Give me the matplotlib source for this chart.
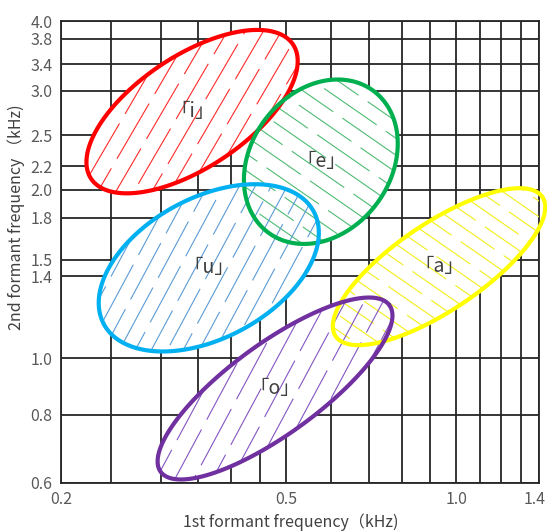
import numpy as np
import matplotlib
matplotlib.use('Agg')
import matplotlib.pyplot as plt
import matplotlib.transforms as mtransforms
from matplotlib.patches import Polygon
from matplotlib.ticker import FixedLocator, FixedFormatter, NullFormatter

plt.rcParams['font.family'] = ['Noto Sans CJK JP', 'DejaVu Sans']
plt.rcParams['lines.scale_dashes'] = False

# ---- data (kHz) ----
vowels = ['「i」', '「e」', '「u」', '「a」', '「o」']
f1_center = [0.341, 0.576, 0.365, 0.932, 0.478]
f2_center = [2.756, 2.243, 1.450, 1.457, 0.883]
major_dec = [0.215, 0.157, 0.211, 0.221, 0.251]   # semi-axis, decades
minor_dec = [0.0996, 0.124, 0.125, 0.0776, 0.0804]
tilt_deg = [34.0, 54.6, 28.7, 34.3, 36.4]

x_tick_vals = [0.2, 0.5, 1.0, 1.4]
x_tick_labels = ['0.2', '0.5', '1.0', '1.4']
# grid-line positions as drawn in the chart
y_tick_vals = [0.6, 0.792, 1.0, 1.4, 1.5, 1.78, 2.0, 2.2, 2.5, 3.0, 3.35, 3.72, 4.0]
y_tick_labels = ['0.6', '0.8', '1.0', '1.4', '1.5', '1.8', '2.0', '2.2', '2.5',
                 '3.0', '3.4', '3.8', '4.0']
x_grid = [0.245, 0.3, 0.35, 0.4, 0.45, 0.5, 0.6, 0.7, 0.8, 0.9, 1.0, 1.1, 1.2, 1.3]

# ---- styles ----
edge_colors = ['#ff0000', '#00b050', '#00b0f0', '#ffff00', '#7030a0']
hatch_colors = ['#ff2a2a', '#4dbb72', '#5b9bd5', '#f2ee1a', '#8455c2']
hatch_angle = [60, -35, 62, -35, 62]
hatch_gap_px = [15.5, 14.0, 14.0, 13.0, 16.5]
PX_PER_DEC = 562.0

fig = plt.figure(figsize=(5.47, 5.31), dpi=100)
ax = fig.add_axes([61/547, (531-482.5)/531, 478/547, 461.5/531])
ax.set_xscale('log')
ax.set_yscale('log')

ax.xaxis.set_major_locator(FixedLocator(x_tick_vals))
ax.xaxis.set_major_formatter(FixedFormatter(x_tick_labels))
ax.xaxis.set_minor_locator(FixedLocator(x_grid))
ax.xaxis.set_minor_formatter(NullFormatter())
ax.yaxis.set_major_locator(FixedLocator(y_tick_vals))
ax.yaxis.set_major_formatter(FixedFormatter(y_tick_labels))
ax.yaxis.set_minor_locator(FixedLocator([]))

gc = '#262626'
ax.grid(True, which='both', color=gc, lw=1.3, zorder=1)
ax.set_axisbelow(True)
for s in ax.spines.values():
    s.set_color(gc)
    s.set_linewidth(1.3)
ax.tick_params(which='both', length=0, labelsize=11.5, labelcolor='#595959', pad=6)

t = np.linspace(0, 2*np.pi, 500)
polys = []
for i in range(len(vowels)):
    th = np.radians(tilt_deg[i])
    a, b = major_dec[i], minor_dec[i]
    cx, cy = np.log10(f1_center[i]), np.log10(f2_center[i])
    lx = cx + a*np.cos(t)*np.cos(th) - b*np.sin(t)*np.sin(th)
    ly = cy + a*np.cos(t)*np.sin(th) + b*np.sin(t)*np.cos(th)
    verts = np.column_stack([10**lx, 10**ly])
    fill = Polygon(verts, closed=True, facecolor='white', edgecolor='none',
                   zorder=2, clip_on=False)
    ax.add_patch(fill)
    polys.append((verts, fill, cx, cy, a))

for i, (verts, fill, cx, cy, a) in enumerate(polys):
    phi = np.radians(hatch_angle[i])
    d = np.array([np.cos(phi), np.sin(phi)])
    n = np.array([-np.sin(phi), np.cos(phi)])
    gap = hatch_gap_px[i] / PX_PER_DEC
    R = a * 1.2
    ks = np.arange(-R, R + gap, gap)
    for j, k in enumerate(ks):
        p0 = np.array([cx, cy]) + k*n - R*d
        p1 = np.array([cx, cy]) + k*n + R*d
        ln, = ax.plot(10**np.array([p0[0], p1[0]]), 10**np.array([p0[1], p1[1]]),
                      color=hatch_colors[i], lw=0.8, zorder=3,
                      linestyle=((j*23) % 54, (46, 8)))
        ln.set_clip_path(fill)

for i, (verts, fill, cx, cy, a) in enumerate(polys):
    edge = Polygon(verts, closed=True, facecolor='none', edgecolor=edge_colors[i],
                   lw=3.0, zorder=4, clip_on=False)
    ax.add_patch(edge)
    ax.text(f1_center[i], f2_center[i], vowels[i], ha='center', va='center',
            fontsize=14, color='#404040', zorder=5)

ax.set_xlim(0.2, 1.4)
ax.set_ylim(0.6, 4.0)

ax.set_xlabel('1st formant frequency（kHz)', fontsize=11.5, color='#404040')
ax.xaxis.set_label_coords(0.48, -0.066)
ax.set_ylabel('2nd formant frequency （kHz)', fontsize=11.5, color='#404040')
ax.yaxis.set_label_coords(-0.075, 0.574)

fig.canvas.draw()
last = ax.get_xticklabels()[-1]
last.set_transform(last.get_transform() +
                   mtransforms.ScaledTranslation(-4/100, 0, fig.dpi_scale_trans))

fig.savefig('out.png', dpi=100)
